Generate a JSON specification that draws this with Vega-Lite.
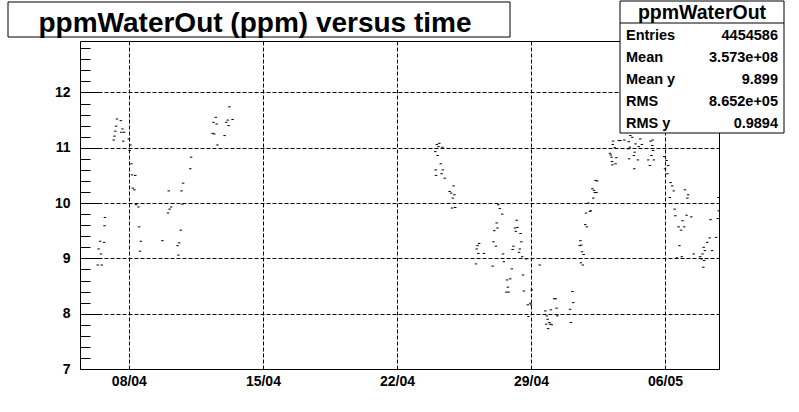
{
  "$schema": "https://vega.github.io/schema/vega-lite/v6.json",
  "width": 639,
  "height": 328,
  "autosize": {"type": "none"},
  "padding": {"left": 80, "top": 41, "right": 80, "bottom": 43},
  "background": "white",
  "config": {"view": {"stroke": "black", "strokeWidth": 1}, "font": "Liberation Sans"},
  "data": {"values": [
    {"t": "2006-04-06T09:00:00Z", "v": 8.88}, {"t": "2006-04-06T10:00:00Z", "v": 9.17}, {"t": "2006-04-06T12:00:00Z", "v": 9.31},
    {"t": "2006-04-06T13:00:00Z", "v": 9.08}, {"t": "2006-04-06T14:00:00Z", "v": 8.88}, {"t": "2006-04-06T17:00:00Z", "v": 9.29},
    {"t": "2006-04-06T17:30:00Z", "v": 9.59}, {"t": "2006-04-06T18:00:00Z", "v": 9.74}, {"t": "2006-04-07T05:00:00Z", "v": 11.14},
    {"t": "2006-04-07T06:00:00Z", "v": 11.21}, {"t": "2006-04-07T07:00:00Z", "v": 11.30}, {"t": "2006-04-07T08:00:00Z", "v": 11.39},
    {"t": "2006-04-07T09:00:00Z", "v": 11.52}, {"t": "2006-04-07T14:00:00Z", "v": 11.49}, {"t": "2006-04-07T14:30:00Z", "v": 11.28},
    {"t": "2006-04-07T16:00:00Z", "v": 11.34}, {"t": "2006-04-07T17:00:00Z", "v": 11.12}, {"t": "2006-04-07T18:00:00Z", "v": 11.28},
    {"t": "2006-04-08T00:00:00Z", "v": 11.16}, {"t": "2006-04-08T01:00:00Z", "v": 10.95}, {"t": "2006-04-08T02:00:00Z", "v": 11.05},
    {"t": "2006-04-08T03:00:00Z", "v": 10.71}, {"t": "2006-04-08T04:00:00Z", "v": 10.51}, {"t": "2006-04-08T05:00:00Z", "v": 10.27},
    {"t": "2006-04-08T07:00:00Z", "v": 10.24}, {"t": "2006-04-08T08:00:00Z", "v": 10.50}, {"t": "2006-04-08T09:00:00Z", "v": 9.97},
    {"t": "2006-04-08T12:00:00Z", "v": 9.93}, {"t": "2006-04-08T13:00:00Z", "v": 9.57}, {"t": "2006-04-08T14:00:00Z", "v": 9.13},
    {"t": "2006-04-08T15:00:00Z", "v": 9.31}, {"t": "2006-04-09T18:00:00Z", "v": 9.32}, {"t": "2006-04-10T01:00:00Z", "v": 9.82},
    {"t": "2006-04-10T02:00:00Z", "v": 10.22}, {"t": "2006-04-10T03:00:00Z", "v": 9.89}, {"t": "2006-04-10T05:00:00Z", "v": 9.93},
    {"t": "2006-04-10T13:00:00Z", "v": 9.23}, {"t": "2006-04-10T14:00:00Z", "v": 9.06}, {"t": "2006-04-10T15:00:00Z", "v": 9.28},
    {"t": "2006-04-10T17:00:00Z", "v": 9.51}, {"t": "2006-04-10T18:00:00Z", "v": 10.22}, {"t": "2006-04-10T19:00:00Z", "v": 9.98},
    {"t": "2006-04-10T20:00:00Z", "v": 10.36}, {"t": "2006-04-11T05:00:00Z", "v": 10.62}, {"t": "2006-04-11T06:00:00Z", "v": 10.83},
    {"t": "2006-04-12T09:00:00Z", "v": 11.26}, {"t": "2006-04-12T10:00:00Z", "v": 11.46}, {"t": "2006-04-12T11:00:00Z", "v": 11.25},
    {"t": "2006-04-12T13:00:00Z", "v": 11.55}, {"t": "2006-04-12T14:00:00Z", "v": 11.43}, {"t": "2006-04-12T15:00:00Z", "v": 11.05},
    {"t": "2006-04-13T00:00:00Z", "v": 11.22}, {"t": "2006-04-13T02:00:00Z", "v": 11.46}, {"t": "2006-04-13T04:00:00Z", "v": 11.50},
    {"t": "2006-04-13T05:00:00Z", "v": 11.40}, {"t": "2006-04-13T06:00:00Z", "v": 11.74}, {"t": "2006-04-13T10:00:00Z", "v": 11.51},
    {"t": "2006-04-24T00:00:00Z", "v": 10.93}, {"t": "2006-04-24T00:30:00Z", "v": 10.60}, {"t": "2006-04-24T01:00:00Z", "v": 10.50},
    {"t": "2006-04-24T02:00:00Z", "v": 11.06}, {"t": "2006-04-24T03:00:00Z", "v": 10.86}, {"t": "2006-04-24T04:00:00Z", "v": 11.02},
    {"t": "2006-04-24T05:00:00Z", "v": 11.08}, {"t": "2006-04-24T07:00:00Z", "v": 10.71}, {"t": "2006-04-24T08:00:00Z", "v": 10.53},
    {"t": "2006-04-24T09:00:00Z", "v": 11.01}, {"t": "2006-04-24T09:30:00Z", "v": 10.60}, {"t": "2006-04-24T12:00:00Z", "v": 10.45},
    {"t": "2006-04-24T18:00:00Z", "v": 10.21}, {"t": "2006-04-24T20:00:00Z", "v": 10.18}, {"t": "2006-04-24T21:00:00Z", "v": 9.91},
    {"t": "2006-04-24T22:00:00Z", "v": 10.09}, {"t": "2006-04-24T23:00:00Z", "v": 10.31}, {"t": "2006-04-25T00:00:00Z", "v": 10.15},
    {"t": "2006-04-25T01:00:00Z", "v": 9.92}, {"t": "2006-04-26T03:00:00Z", "v": 8.90}, {"t": "2006-04-26T04:00:00Z", "v": 9.17},
    {"t": "2006-04-26T05:00:00Z", "v": 9.23}, {"t": "2006-04-26T06:00:00Z", "v": 9.09}, {"t": "2006-04-26T07:00:00Z", "v": 9.27},
    {"t": "2006-04-26T13:00:00Z", "v": 9.09}, {"t": "2006-04-27T00:00:00Z", "v": 8.86}, {"t": "2006-04-27T01:00:00Z", "v": 9.30},
    {"t": "2006-04-27T02:00:00Z", "v": 9.50}, {"t": "2006-04-27T04:00:00Z", "v": 9.22}, {"t": "2006-04-27T05:00:00Z", "v": 9.64},
    {"t": "2006-04-27T06:00:00Z", "v": 9.55}, {"t": "2006-04-27T07:00:00Z", "v": 9.97}, {"t": "2006-04-27T09:00:00Z", "v": 9.90},
    {"t": "2006-04-27T12:00:00Z", "v": 9.80}, {"t": "2006-04-27T13:00:00Z", "v": 9.08}, {"t": "2006-04-27T14:00:00Z", "v": 8.94},
    {"t": "2006-04-27T17:00:00Z", "v": 8.39}, {"t": "2006-04-27T18:00:00Z", "v": 8.61}, {"t": "2006-04-27T19:00:00Z", "v": 8.48},
    {"t": "2006-04-27T20:00:00Z", "v": 8.39}, {"t": "2006-04-27T22:00:00Z", "v": 8.63}, {"t": "2006-04-28T00:00:00Z", "v": 8.81},
    {"t": "2006-04-28T01:00:00Z", "v": 9.16}, {"t": "2006-04-28T02:00:00Z", "v": 9.22}, {"t": "2006-04-28T04:00:00Z", "v": 9.55},
    {"t": "2006-04-28T05:00:00Z", "v": 9.49}, {"t": "2006-04-28T06:00:00Z", "v": 9.69}, {"t": "2006-04-28T07:00:00Z", "v": 9.56},
    {"t": "2006-04-28T09:00:00Z", "v": 9.11}, {"t": "2006-04-28T10:00:00Z", "v": 9.17}, {"t": "2006-04-28T11:00:00Z", "v": 9.45},
    {"t": "2006-04-28T12:00:00Z", "v": 9.30}, {"t": "2006-04-28T13:00:00Z", "v": 9.03}, {"t": "2006-04-28T14:00:00Z", "v": 8.70},
    {"t": "2006-04-28T15:00:00Z", "v": 8.41}, {"t": "2006-04-28T18:00:00Z", "v": 8.99}, {"t": "2006-04-28T20:00:00Z", "v": 8.16},
    {"t": "2006-04-28T21:00:00Z", "v": 7.95}, {"t": "2006-04-28T23:00:00Z", "v": 8.19}, {"t": "2006-04-29T00:00:00Z", "v": 8.16},
    {"t": "2006-04-29T01:00:00Z", "v": 8.43}, {"t": "2006-04-29T11:00:00Z", "v": 8.88}, {"t": "2006-04-29T18:00:00Z", "v": 8.05},
    {"t": "2006-04-29T19:00:00Z", "v": 7.81}, {"t": "2006-04-29T20:00:00Z", "v": 7.96}, {"t": "2006-04-29T21:00:00Z", "v": 7.90},
    {"t": "2006-04-29T21:30:00Z", "v": 7.73}, {"t": "2006-04-29T23:00:00Z", "v": 7.84}, {"t": "2006-04-30T00:00:00Z", "v": 7.81},
    {"t": "2006-04-30T01:00:00Z", "v": 8.07}, {"t": "2006-04-30T02:00:00Z", "v": 7.80}, {"t": "2006-04-30T05:00:00Z", "v": 8.27},
    {"t": "2006-04-30T07:00:00Z", "v": 8.27}, {"t": "2006-04-30T08:00:00Z", "v": 8.10}, {"t": "2006-04-30T09:00:00Z", "v": 7.96},
    {"t": "2006-05-01T01:00:00Z", "v": 8.08}, {"t": "2006-05-01T02:00:00Z", "v": 7.84}, {"t": "2006-05-01T04:00:00Z", "v": 8.40},
    {"t": "2006-05-01T05:00:00Z", "v": 8.20}, {"t": "2006-05-01T13:00:00Z", "v": 9.23}, {"t": "2006-05-01T14:00:00Z", "v": 9.32},
    {"t": "2006-05-01T14:30:00Z", "v": 8.92}, {"t": "2006-05-01T15:00:00Z", "v": 9.24}, {"t": "2006-05-01T16:00:00Z", "v": 9.12},
    {"t": "2006-05-01T17:00:00Z", "v": 8.88}, {"t": "2006-05-01T18:00:00Z", "v": 9.07}, {"t": "2006-05-01T20:00:00Z", "v": 9.61},
    {"t": "2006-05-01T21:00:00Z", "v": 9.82}, {"t": "2006-05-01T22:00:00Z", "v": 9.57}, {"t": "2006-05-02T00:00:00Z", "v": 10.00},
    {"t": "2006-05-02T02:00:00Z", "v": 9.85}, {"t": "2006-05-02T03:00:00Z", "v": 9.86}, {"t": "2006-05-02T05:00:00Z", "v": 10.26},
    {"t": "2006-05-02T06:00:00Z", "v": 10.09}, {"t": "2006-05-02T07:00:00Z", "v": 10.23}, {"t": "2006-05-02T08:00:00Z", "v": 10.19},
    {"t": "2006-05-02T09:00:00Z", "v": 10.41}, {"t": "2006-05-02T10:00:00Z", "v": 10.19}, {"t": "2006-05-02T11:00:00Z", "v": 10.40},
    {"t": "2006-05-03T03:00:00Z", "v": 10.90}, {"t": "2006-05-03T04:00:00Z", "v": 10.87}, {"t": "2006-05-03T05:00:00Z", "v": 10.83},
    {"t": "2006-05-03T05:30:00Z", "v": 10.75}, {"t": "2006-05-03T06:00:00Z", "v": 10.69}, {"t": "2006-05-03T06:30:00Z", "v": 11.06},
    {"t": "2006-05-03T07:00:00Z", "v": 11.12}, {"t": "2006-05-03T09:00:00Z", "v": 11.00}, {"t": "2006-05-03T10:00:00Z", "v": 10.71},
    {"t": "2006-05-03T11:00:00Z", "v": 10.82}, {"t": "2006-05-03T14:00:00Z", "v": 11.13}, {"t": "2006-05-03T16:00:00Z", "v": 11.13},
    {"t": "2006-05-03T21:00:00Z", "v": 11.14}, {"t": "2006-05-04T02:00:00Z", "v": 10.98}, {"t": "2006-05-04T02:30:00Z", "v": 11.11},
    {"t": "2006-05-04T03:00:00Z", "v": 10.80}, {"t": "2006-05-04T04:00:00Z", "v": 11.01}, {"t": "2006-05-04T04:30:00Z", "v": 11.22},
    {"t": "2006-05-04T07:00:00Z", "v": 11.19}, {"t": "2006-05-04T09:00:00Z", "v": 10.86}, {"t": "2006-05-04T09:30:00Z", "v": 10.62},
    {"t": "2006-05-04T10:00:00Z", "v": 10.92}, {"t": "2006-05-04T11:00:00Z", "v": 11.07}, {"t": "2006-05-04T14:00:00Z", "v": 10.78},
    {"t": "2006-05-04T15:00:00Z", "v": 11.02}, {"t": "2006-05-04T17:00:00Z", "v": 11.16}, {"t": "2006-05-04T19:00:00Z", "v": 11.06},
    {"t": "2006-05-05T03:00:00Z", "v": 10.78}, {"t": "2006-05-05T05:00:00Z", "v": 10.68}, {"t": "2006-05-05T06:00:00Z", "v": 11.12},
    {"t": "2006-05-05T07:00:00Z", "v": 10.86}, {"t": "2006-05-05T08:00:00Z", "v": 11.04}, {"t": "2006-05-05T08:30:00Z", "v": 11.14},
    {"t": "2006-05-05T09:00:00Z", "v": 10.95}, {"t": "2006-05-05T10:00:00Z", "v": 10.78}, {"t": "2006-05-05T23:00:00Z", "v": 10.84},
    {"t": "2006-05-06T00:00:00Z", "v": 10.62}, {"t": "2006-05-06T02:00:00Z", "v": 10.77}, {"t": "2006-05-06T03:00:00Z", "v": 10.53},
    {"t": "2006-05-06T04:00:00Z", "v": 10.68}, {"t": "2006-05-06T06:00:00Z", "v": 10.10}, {"t": "2006-05-06T07:00:00Z", "v": 10.37},
    {"t": "2006-05-06T09:00:00Z", "v": 10.31}, {"t": "2006-05-06T11:00:00Z", "v": 10.22}, {"t": "2006-05-06T12:00:00Z", "v": 9.89},
    {"t": "2006-05-06T13:00:00Z", "v": 9.77}, {"t": "2006-05-06T15:00:00Z", "v": 9.01}, {"t": "2006-05-06T17:00:00Z", "v": 9.57},
    {"t": "2006-05-06T18:00:00Z", "v": 9.23}, {"t": "2006-05-06T20:00:00Z", "v": 9.51}, {"t": "2006-05-06T21:00:00Z", "v": 9.03},
    {"t": "2006-05-06T22:00:00Z", "v": 9.68}, {"t": "2006-05-07T00:00:00Z", "v": 9.57}, {"t": "2006-05-07T01:00:00Z", "v": 10.24},
    {"t": "2006-05-07T03:00:00Z", "v": 9.78}, {"t": "2006-05-07T04:00:00Z", "v": 10.09}, {"t": "2006-05-07T05:00:00Z", "v": 10.15},
    {"t": "2006-05-07T09:00:00Z", "v": 9.75}, {"t": "2006-05-07T12:00:00Z", "v": 9.08}, {"t": "2006-05-07T20:00:00Z", "v": 9.03},
    {"t": "2006-05-07T22:00:00Z", "v": 8.99}, {"t": "2006-05-07T23:00:00Z", "v": 9.08}, {"t": "2006-05-08T00:00:00Z", "v": 8.84},
    {"t": "2006-05-08T00:30:00Z", "v": 9.20}, {"t": "2006-05-08T01:00:00Z", "v": 8.96}, {"t": "2006-05-08T02:00:00Z", "v": 9.14},
    {"t": "2006-05-08T05:00:00Z", "v": 9.29}, {"t": "2006-05-08T08:00:00Z", "v": 9.37}, {"t": "2006-05-08T09:00:00Z", "v": 9.70},
    {"t": "2006-05-08T11:00:00Z", "v": 9.14}, {"t": "2006-05-08T16:00:00Z", "v": 9.38}, {"t": "2006-05-08T18:00:00Z", "v": 9.72},
    {"t": "2006-05-08T19:00:00Z", "v": 10.10}, {"t": "2006-05-08T19:20:00Z", "v": 9.86}
  ]},
  "layer": [
    {
      "mark": {"type": "tick", "orient": "horizontal", "size": 2.5, "thickness": 1, "color": "black", "opacity": 1},
      "encoding": {
        "x": {
          "field": "t", "type": "temporal",
          "scale": {"type": "utc", "domain": [
            {"year": 2006, "month": 4, "date": 5, "hours": 10, "minutes": 45, "utc": true},
            {"year": 2006, "month": 5, "date": 8, "hours": 19, "minutes": 40, "utc": true}
          ]},
          "axis": {
            "title": null,
            "values": [
              {"year": 2006, "month": 4, "date": 8, "utc": true},
              {"year": 2006, "month": 4, "date": 15, "utc": true},
              {"year": 2006, "month": 4, "date": 22, "utc": true},
              {"year": 2006, "month": 4, "date": 29, "utc": true},
              {"year": 2006, "month": 5, "date": 6, "utc": true}
            ],
            "format": "%d/%m",
            "ticks": false, "domain": false,
            "labelPadding": 5, "labelFontSize": 14, "labelFontWeight": "bold", "labelColor": "black",
            "labelFont": "Liberation Sans",
            "grid": true, "gridColor": "black", "gridDash": [4, 2], "gridOpacity": 1, "gridWidth": 1
          }
        },
        "y": {
          "field": "v", "type": "quantitative",
          "scale": {"domain": [7, 12.93], "nice": false, "zero": false},
          "axis": {
            "title": null, "values": [7, 8, 9, 10, 11, 12],
            "ticks": false, "domain": false,
            "labelPadding": 10, "labelFontSize": 14, "labelFontWeight": "bold", "labelColor": "black",
            "labelFont": "Liberation Sans",
            "grid": true, "gridColor": "black", "gridDash": [4, 2], "gridOpacity": 1, "gridWidth": 1
          }
        }
      }
    },
    {
      "mark": {"type": "point", "opacity": 0},
      "encoding": {
        "y": {
          "field": "v", "type": "quantitative",
          "axis": {
            "orient": "left", "title": null, "labels": false, "grid": false, "domain": false,
            "values": [7.2, 7.4, 7.6, 7.8, 8.2, 8.4, 8.6, 8.8, 9.2, 9.4, 9.6, 9.8, 10.2, 10.4, 10.6, 10.8, 11.2, 11.4, 11.6, 11.8, 12.2, 12.4, 12.6, 12.8],
            "ticks": true, "tickSize": -10, "tickColor": "black", "tickWidth": 1
          }
        }
      }
    },
    {
      "mark": {"type": "point", "opacity": 0},
      "encoding": {
        "y": {
          "field": "v", "type": "quantitative",
          "axis": {
            "orient": "left", "title": null, "labels": false, "grid": false, "domain": false,
            "values": [7, 8, 9, 10, 11, 12],
            "ticks": true, "tickSize": -19, "tickColor": "black", "tickWidth": 1
          }
        }
      }
    },
    {
      "data": {"values": [{"box": "title"}]},
      "mark": {"type": "rect", "fill": "white", "stroke": "black", "strokeWidth": 1},
      "encoding": {"x": {"value": -72}, "x2": {"value": 430}, "y": {"value": -39}, "y2": {"value": -4}}
    },
    {
      "data": {"values": [{"title": "ppmWaterOut (ppm) versus time"}]},
      "mark": {"type": "text", "font": "Liberation Sans", "fontSize": 28, "fontWeight": "bold", "align": "center", "baseline": "alphabetic", "color": "black"},
      "encoding": {"x": {"value": 175}, "y": {"value": -9}, "text": {"field": "title"}}
    },
    {
      "data": {"values": [{"box": "stats"}]},
      "mark": {"type": "rect", "fill": "white", "stroke": "black", "strokeWidth": 1},
      "encoding": {"x": {"value": 540}, "x2": {"value": 704}, "y": {"value": -40}, "y2": {"value": 92}}
    },
    {
      "data": {"values": [{"box": "stats"}]},
      "mark": {"type": "rule", "color": "black", "strokeWidth": 1},
      "encoding": {"x": {"value": 540}, "x2": {"value": 704}, "y": {"value": -18}}
    },
    {
      "data": {"values": [{"name": "ppmWaterOut"}]},
      "mark": {"type": "text", "font": "Liberation Sans", "fontSize": 19.5, "fontWeight": "bold", "align": "center", "baseline": "alphabetic", "color": "black"},
      "encoding": {"x": {"value": 622}, "y": {"value": -22}, "text": {"field": "name"}}
    },
    {
      "data": {"values": [{"lines": ["Entries", "Mean", "Mean y", "RMS", "RMS y"]}]},
      "mark": {"type": "text", "font": "Liberation Sans", "fontSize": 14.5, "fontWeight": "bold", "align": "left", "baseline": "alphabetic", "lineHeight": 22, "color": "black"},
      "encoding": {"x": {"value": 546}, "y": {"value": -1}, "text": {"field": "lines"}}
    },
    {
      "data": {"values": [{"lines": ["4454586", "3.573e+08", "9.899", "8.652e+05", "0.9894"]}]},
      "mark": {"type": "text", "font": "Liberation Sans", "fontSize": 14.5, "fontWeight": "bold", "align": "right", "baseline": "alphabetic", "lineHeight": 22, "color": "black"},
      "encoding": {"x": {"value": 698}, "y": {"value": -1}, "text": {"field": "lines"}}
    }
  ],
  "resolve": {"axis": {"y": "independent"}}
}
